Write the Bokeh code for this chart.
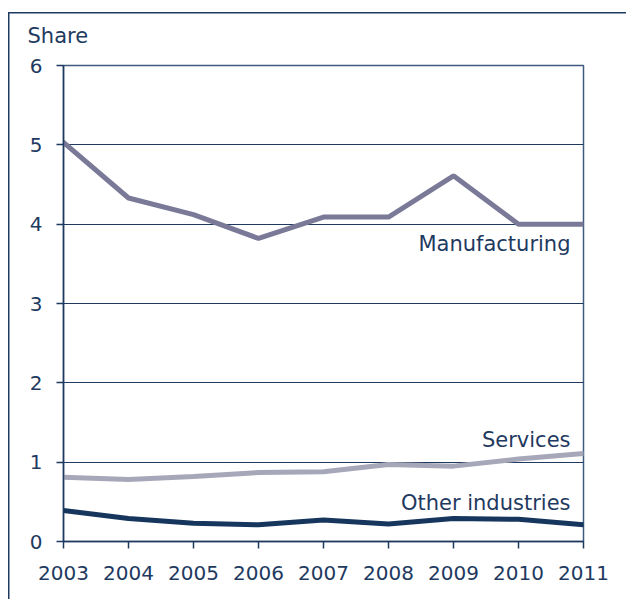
from bokeh.plotting import figure
from bokeh.models import Range1d, FixedTicker
from bokeh.core.properties import value
from bokeh.embed import file_html
from bokeh.resources import INLINE

years = [2003, 2004, 2005, 2006, 2007, 2008, 2009, 2010, 2011]
manufacturing = [5.03, 4.33, 4.12, 3.82, 4.09, 4.09, 4.61, 4.00, 4.00]
services = [0.81, 0.78, 0.82, 0.87, 0.88, 0.97, 0.95, 1.04, 1.11]
other_industries = [0.39, 0.29, 0.23, 0.21, 0.27, 0.22, 0.29, 0.28, 0.21]
y_ticks = [0, 1, 2, 3, 4, 5, 6]
y_label = "Share"
series_names = ["Manufacturing", "Services", "Other industries"]

NAVY = "#1f3a5f"
FONT = "DejaVu Sans"
FS = "20px"
FS_L = "21px"

frame_css = (f"linear-gradient({NAVY}, {NAVY}) 8px 12px / 1.5px 100% no-repeat, "
             f"linear-gradient({NAVY}, {NAVY}) 8px 12px / 100% 1.5px no-repeat, white")

p = figure(width=626, height=599, output_backend="svg", toolbar_location=None,
           x_range=Range1d(2003, 2011), y_range=Range1d(0, 6),
           min_border_left=63, min_border_right=43, min_border_top=65, min_border_bottom=58,
           styles={"background": frame_css})
p.background_fill_color = "white"
p.border_fill_color = None
p.outline_line_color = "#3d5a7f"
p.outline_line_width = 1.5

p.title.text = y_label
p.title.align = "left"
p.title.offset = -36
p.title.text_font = FONT
p.title.text_font_size = FS_L
p.title.text_font_style = "normal"
p.title.text_color = NAVY
p.title.standoff = 35

for ax in (p.xaxis[0], p.yaxis[0]):
    ax.axis_line_color = NAVY
    ax.axis_line_width = 1.5
    ax.major_tick_line_color = NAVY
    ax.major_tick_line_width = 1.5
    ax.major_tick_in = 0
    ax.major_tick_out = 7
    ax.minor_tick_line_color = None
    ax.major_label_text_font = FONT
    ax.major_label_text_font_size = FS
    ax.major_label_text_color = NAVY

p.xaxis.ticker = FixedTicker(ticks=years)
p.yaxis.ticker = FixedTicker(ticks=y_ticks)
p.xaxis.major_label_standoff = 17
p.yaxis.major_label_standoff = 14

p.xgrid.grid_line_color = None
p.ygrid.grid_line_color = NAVY
p.ygrid.grid_line_width = 1
p.ygrid.ticker = FixedTicker(ticks=y_ticks)

p.line(years, manufacturing, line_color="#7a7a98", line_width=5, line_cap="round")
p.line(years, services, line_color="#a7a7ba", line_width=5, line_cap="round")
p.line(years, other_industries, line_color="#17365d", line_width=5, line_cap="round")

label_x = [2010.8, 2010.8, 2010.8]
label_y = [3.75, 1.28, 0.48]
p.text(x=label_x, y=label_y, text=series_names, text_font=value(FONT),
       text_font_size=FS_L, text_color=NAVY, text_align="right", text_baseline="middle")

open("out.html", "w").write(file_html(p, INLINE))
